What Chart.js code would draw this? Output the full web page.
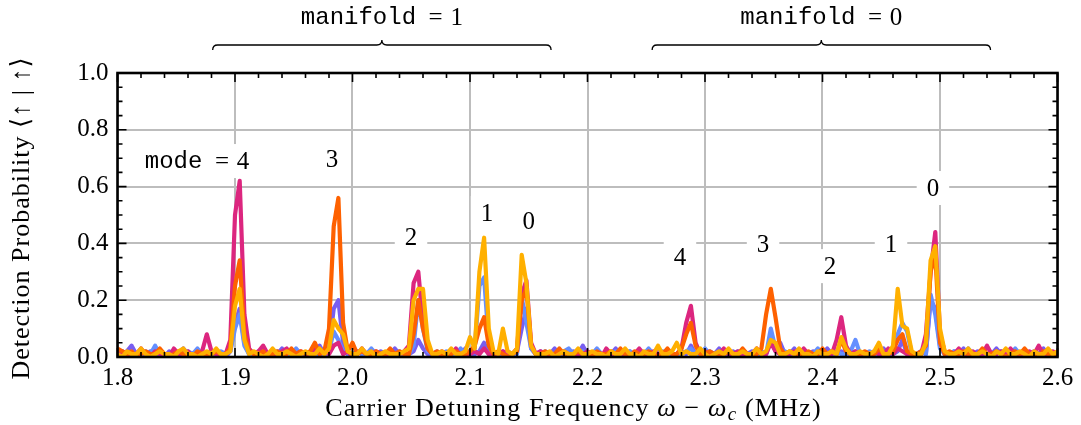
<!DOCTYPE html>
<html>
<head>
<meta charset="utf-8">
<script src="https://cdn.jsdelivr.net/npm/chart.js@4"></script>
<style>
  html, body { margin: 0; padding: 0; background: #fff; }
  #wrap { width: 1081px; height: 425px; }
</style>
</head>
<body>
<div id="wrap"><canvas id="chart"></canvas></div>
<script>
// frequency grid (MHz)
const freqStart = 1.8;
const freqStep = 0.004;

// detection probability in percent, one value per grid point
const pinkPct = [
  1,2,1,0,1,3,1,0,2,1, 1,0,3,1,1,2,0,1,2,8,
  2,1,0,1,6,50,62,15,3,1, 2,4,1,1,0,2,3,1,1,2,
  1,0,3,1,2,1,4,5,1,2, 0,1,3,1,1,2,1,0,2,1,
  1,2,4,26,30,12,3,1,0,2, 1,1,3,0,1,1,2,1,3,1,
  0,1,2,1,1,3,22,27,5,1, 2,1,0,1,1,2,1,0,1,1,
  2,1,1,0,3,1,1,2,0,1, 1,3,1,0,2,1,1,2,1,1,
  3,12,18,5,1,2,1,0,1,3, 1,1,2,0,1,1,3,1,1,5,
  2,1,0,1,2,1,3,1,0,1, 2,1,1,6,14,4,1,2,1,1,
  0,2,1,1,3,1,3,2,1,1, 0,1,8,30,44,8,2,1,1,3,
  1,1,2,0,1,4,1,1,2,1, 3,1,1,0,2,1,4,1,1,2,
  1
];
const orangePct = [
  3,2,1,2,0,1,2,1,1,3, 1,0,1,2,1,1,0,2,1,1,
  1,2,1,1,3,25,34,8,2,1, 1,2,0,1,2,1,1,3,1,2,
  1,2,5,1,2,10,46,56,12,2, 5,1,2,1,0,2,1,1,3,1,
  2,1,1,8,20,10,3,1,2,1, 0,1,2,1,1,2,4,10,14,4,
  1,2,1,0,1,2,20,24,4,1, 1,2,1,1,3,1,0,1,2,1,
  1,0,2,1,1,2,1,3,1,0, 2,1,1,2,1,0,1,3,1,1,
  3,8,12,4,1,1,2,1,0,1, 2,1,1,3,1,0,1,3,15,24,
  14,3,1,2,1,1,0,2,1,1, 3,1,2,1,6,2,1,0,1,2,
  1,1,3,1,1,2,6,8,2,1, 1,2,4,30,36,5,1,2,1,1,
  2,1,0,1,3,1,1,2,1,0, 1,2,1,3,1,1,0,2,1,1,
  1
];
const yellowPct = [
  1,0,2,1,1,3,1,0,1,2, 1,1,0,2,3,1,1,0,1,2,
  1,3,1,1,2,18,24,6,1,2, 1,0,1,3,1,1,2,1,0,1,
  2,1,1,3,1,3,13,10,8,2, 1,1,3,1,2,0,1,2,1,1,
  1,2,3,20,24,24,6,1,1,2, 1,3,1,1,2,7,3,30,42,10,
  2,1,10,2,1,3,36,26,4,1, 1,1,2,0,1,2,1,1,3,1,
  1,2,1,1,0,2,1,1,3,1, 1,0,2,1,1,4,1,1,2,5,
  1,2,1,1,3,1,0,1,2,1, 3,1,1,2,1,1,3,1,2,6,
  5,1,1,2,1,3,1,1,0,2, 1,1,2,1,7,3,1,1,2,1,
  1,2,5,1,1,4,24,11,10,2, 1,1,5,34,39,10,2,1,1,2,
  1,3,1,1,2,1,0,2,1,3, 1,1,2,1,0,2,1,1,3,1,
  2
];
const purplePct = [
  1,1,2,4,1,0,1,2,1,1, 0,2,1,1,3,1,1,0,1,1,
  2,1,1,0,2,12,17,5,1,1, 2,1,0,1,1,3,1,1,2,1,
  0,1,2,4,1,3,17,20,5,1, 1,2,1,0,1,1,2,1,1,3,
  1,0,1,2,6,3,1,1,2,0, 1,2,1,1,3,1,1,2,5,1,
  1,0,2,1,1,2,10,17,3,1, 2,1,1,3,1,0,1,2,1,4,
  1,1,2,0,1,1,3,1,1,2, 0,1,1,2,1,3,1,0,1,1,
  2,1,4,1,1,0,2,1,3,1, 1,2,0,1,1,2,1,1,1,6,
  2,5,1,1,3,1,0,1,2,1, 1,3,1,1,2,1,1,2,0,1,
  1,2,1,3,1,1,2,6,1,0, 1,2,1,20,17,4,1,1,2,1,
  3,1,1,2,1,0,1,3,1,1, 2,1,0,1,1,2,1,3,1,1,
  1
];
const bluePct = [
  1,2,1,1,0,1,2,1,4,1, 1,0,2,1,1,2,1,3,1,0,
  1,1,2,1,2,10,15,4,1,1, 0,2,1,1,2,1,0,1,3,1,
  1,2,1,1,0,2,9,6,2,1, 1,2,1,1,3,1,0,1,2,1,
  2,1,1,4,20,10,2,1,0,1, 2,1,1,3,1,1,3,25,28,5,
  1,1,0,2,1,1,21,12,3,1, 1,2,1,1,0,2,3,1,1,2,
  1,1,3,1,0,1,2,1,1,2, 1,0,1,3,1,1,2,1,1,0,
  1,2,3,1,1,3,1,0,1,2, 1,1,2,1,1,0,1,2,1,10,
  3,1,2,1,0,1,2,1,1,3, 1,1,0,2,1,1,2,6,1,1,
  2,1,1,0,1,2,8,12,9,1, 1,2,1,22,15,3,1,0,2,1,
  1,3,1,1,2,1,0,1,2,1, 1,3,1,2,1,0,1,1,2,1,
  1
];

// peak labels (mode number) and their places in data units
const modeText = ['4', '3', '2', '1', '0', '4', '3', '2', '1', '0'];
const modeX = [1.9068, 1.9826, 2.0498, 2.1145, 2.150, 2.2787, 2.3494, 2.4064, 2.4583, 2.494];
const modeY = [0.690, 0.694, 0.4225, 0.507, 0.479, 0.349, 0.398, 0.320, 0.398, 0.595];

// manifold groups above the plot
const manifoldText = ['1', '0'];
const manifoldFrom = [1.881, 2.255];
const manifoldTo = [2.169, 2.543];

const freqs = pinkPct.map((_, i) => +(freqStart + i * freqStep).toFixed(3));
const toPoints = arr => arr.map((v, i) => ({ x: freqs[i], y: v / 100 }));

const SERIF = "'Liberation Serif', 'DejaVu Serif', serif";
const MONO = "'Liberation Mono', 'DejaVu Sans Mono', monospace";
const FS = 25;
const TS = 26;

function line(data, color) {
  return { data: toPoints(data), borderColor: color, backgroundColor: color,
           borderWidth: 4.2, pointRadius: 0, tension: 0, clip: 0,
           borderJoinStyle: 'round', borderCapStyle: 'round' };
}

// draws a run of text pieces [text, font, dy] starting at x
function drawPieces(ctx, pieces, x, y) {
  pieces.forEach(([t, f, dy]) => {
    ctx.font = f;
    ctx.fillText(t, x, y + (dy || 0));
    x += ctx.measureText(t).width;
  });
}
function piecesWidth(ctx, pieces) {
  return pieces.reduce((w, [t, f]) => { ctx.font = f; return w + ctx.measureText(t).width; }, 0);
}
// "name = value" with a monospace name, like the TeX labels
function eqPieces(name, value) {
  return [[name, `24px ${MONO}`], ['  = ', `${FS}px ${SERIF}`], [' ', `6px ${SERIF}`], [value, `${FS}px ${SERIF}`]];
}

const annotations = {
  id: 'annotations',
  beforeDatasetsDraw(chart) {
    const { ctx, scales: { x, y } } = chart;
    ctx.save();
    ctx.textBaseline = 'middle';
    modeText.forEach((t, i) => {
      const px = x.getPixelForValue(modeX[i]);
      const py = y.getPixelForValue(modeY[i]);
      ctx.font = `${FS}px ${SERIF}`;
      const w = ctx.measureText(t).width;
      let pieces = [[t, `${FS}px ${SERIF}`]];
      let left = px - w / 2;
      if (i === 0) {
        pieces = eqPieces('mode', t);
        left = px + w / 2 - piecesWidth(ctx, pieces);
      }
      const tw = piecesWidth(ctx, pieces);
      ctx.fillStyle = '#fff';
      ctx.fillRect(left - 10, py - 17, tw + 20, 34);
      ctx.fillStyle = '#000';
      drawPieces(ctx, pieces, left, py + 1);
    });
    ctx.restore();
  },
  afterDraw(chart) {
    const { ctx, chartArea: a, scales: { x } } = chart;
    ctx.save();
    ctx.fillStyle = '#000';
    ctx.strokeStyle = '#000';
    // manifold braces
    manifoldText.forEach((t, i) => {
      const x0 = x.getPixelForValue(manifoldFrom[i]);
      const x1 = x.getPixelForValue(manifoldTo[i]);
      const xm = (x0 + x1) / 2;
      const by = a.top - 28, h = 5;
      ctx.lineWidth = 1.3;
      ctx.beginPath();
      ctx.moveTo(x0, by + h);
      ctx.quadraticCurveTo(x0, by, x0 + h, by);
      ctx.lineTo(xm - h, by);
      ctx.quadraticCurveTo(xm, by, xm, by - h);
      ctx.quadraticCurveTo(xm, by, xm + h, by);
      ctx.lineTo(x1 - h, by);
      ctx.quadraticCurveTo(x1, by, x1, by + h);
      ctx.stroke();
      const pieces = eqPieces('manifold', t);
      ctx.textBaseline = 'middle';
      drawPieces(ctx, pieces, xm - piecesWidth(ctx, pieces) / 2, a.top - 55);
    });
    // axis titles
    ctx.letterSpacing = '1.2px';
    ctx.textBaseline = 'alphabetic';
    const xt = [
      ['Carrier Detuning Frequency ', `${TS}px ${SERIF}`],
      ['ω', `italic ${TS}px ${SERIF}`],
      [' − ', `${TS}px ${SERIF}`],
      ['ω', `italic ${TS}px ${SERIF}`],
      ['c', `italic 19px ${SERIF}`, 4],
      [' (MHz)', `${TS}px ${SERIF}`]
    ];
    drawPieces(ctx, xt, (a.left + a.right) / 2 - 14 - piecesWidth(ctx, xt) / 2, 416);
    ctx.letterSpacing = '1px';
    ctx.translate(22, (a.top + a.bottom) / 2 + 3);
    ctx.rotate(-Math.PI / 2);
    ctx.textBaseline = 'middle';
    ctx.textAlign = 'center';
    ctx.font = `${TS}px ${SERIF}`;
    ctx.fillText('Detection Probability ⟨↑ | ↑⟩', 0, 0);
    ctx.restore();
  }
};

const frame = {
  id: 'frame',
  afterDatasetsDraw(chart) {
    const { ctx, chartArea: a, scales: { x, y } } = chart;
    ctx.save();
    ctx.strokeStyle = '#000';
    ctx.lineWidth = 1.6;
    ctx.beginPath();
    for (let k = 0; k <= 40; k++) {
      const px = x.getPixelForValue(1.8 + k * 0.02);
      const len = k % 5 === 0 ? 9 : 5;
      ctx.moveTo(px, a.bottom); ctx.lineTo(px, a.bottom - len);
      ctx.moveTo(px, a.top); ctx.lineTo(px, a.top + len);
    }
    for (let k = 0; k <= 20; k++) {
      const py = y.getPixelForValue(k * 0.05);
      const len = k % 4 === 0 ? 9 : 5;
      ctx.moveTo(a.left, py); ctx.lineTo(a.left + len, py);
      ctx.moveTo(a.right, py); ctx.lineTo(a.right - len, py);
    }
    ctx.stroke();
    ctx.lineWidth = 2.6;
    ctx.strokeRect(a.left, a.top, a.right - a.left, a.bottom - a.top);
    ctx.restore();
  }
};

new Chart(document.getElementById('chart'), {
  type: 'line',
  data: {
    datasets: [
      line(yellowPct, '#ffb000'),
      line(orangePct, '#fe6100'),
      line(pinkPct, '#dc267f'),
      line(bluePct, '#648fff'),
      line(purplePct, '#785ef0')
    ]
  },
  options: {
    responsive: true,
    maintainAspectRatio: false,
    animation: false,
    devicePixelRatio: 1,
    layout: { padding: { top: 73, right: 23.5, left: 0, bottom: 0 } },
    plugins: { legend: { display: false }, tooltip: { enabled: false } },
    scales: {
      x: {
        type: 'linear', min: 1.8, max: 2.6,
        ticks: { stepSize: 0.1, callback: v => v.toFixed(1), color: '#000',
                 font: { family: SERIF, size: FS }, padding: 6, maxRotation: 0, autoSkip: false },
        grid: { color: '#bdbdbd', lineWidth: 2, drawTicks: false },
        border: { display: false },
        afterFit: s => { s.height = 68; }
      },
      y: {
        min: 0, max: 1,
        ticks: { stepSize: 0.2, callback: v => v.toFixed(1), color: '#000',
                 font: { family: SERIF, size: FS }, padding: 9 },
        grid: { color: '#bdbdbd', lineWidth: 2, drawTicks: false },
        border: { display: false },
        afterFit: s => { s.width = 117.5; }
      }
    }
  },
  plugins: [annotations, frame]
});
</script>
</body>
</html>
